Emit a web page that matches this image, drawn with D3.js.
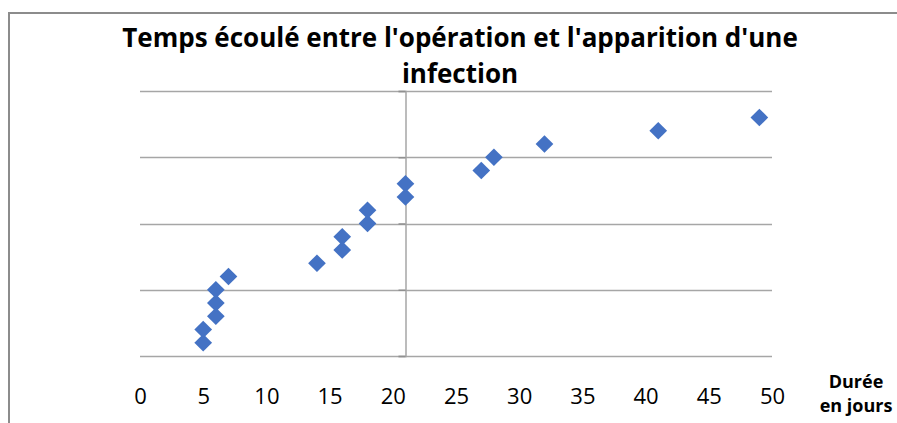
<!DOCTYPE html>
<html>
<head>
<meta charset="utf-8">
<script src="https://cdn.jsdelivr.net/npm/d3@7"></script>
<style>
  body { margin: 0; background: #fff; }
  svg { display: block; font-family: "Open Sans", Lato, sans-serif; }
</style>
</head>
<body>
<div id="chart"></div>
<script>
var width = 897;
var height = 423;

// durée en jours / rang du patient
var jours = [5, 5, 6, 6, 6, 7, 14, 16, 16, 18, 18, 21, 21, 27, 28, 32, 41, 49];
var rangs = [1, 2, 3, 4, 5, 6, 7, 8, 9, 10, 11, 12, 13, 14, 15, 16, 17, 18];
var xTicks = [0, 5, 10, 15, 20, 25, 30, 35, 40, 45, 50];
var yTicks = [0, 5, 10, 15, 20];
var titleLines = ["Temps écoulé entre l'opération et l'apparition d'une", "infection"];
var axisTitle = ["Durée", "en jours"];

var plot = {left: 140, right: 772, top: 91, bottom: 356};

var x = d3.scaleLinear()
          .domain([0, 50])
          .range([plot.left, plot.right]);

var y = d3.scaleLinear()
          .domain([0, 20])
          .range([plot.bottom, plot.top]);

var svg = d3.select("#chart")
            .append("svg")
            .attr("width", width)
            .attr("height", height);

// cadre du graphique
svg.append("rect")
   .attr("x", 9)
   .attr("y", 13)
   .attr("width", 1000)
   .attr("height", 1000)
   .style("fill", "none")
   .style("stroke", "#8c8c8c")
   .style("stroke-width", 2);

// quadrillage horizontal
svg.append("g")
   .selectAll("line")
   .data(yTicks)
   .enter()
   .append("line")
   .attr("x1", plot.left)
   .attr("x2", plot.right)
   .attr("y1", d => Math.round(y(d)) + 0.5)
   .attr("y2", d => Math.round(y(d)) + 0.5)
   .style("stroke", "#a6a6a6")
   .style("stroke-width", 1.5);

// axe vertical, coupe l'axe horizontal à 21
var yAxis = d3.axisLeft(y)
              .tickValues(yTicks)
              .tickSize(7)
              .tickFormat("");

svg.append("g")
   .attr("transform", "translate(" + (Math.round(x(21)) + 0.5) + ",0)")
   .call(yAxis)
   .call(g => g.select(".domain").style("stroke", "#a6a6a6").style("stroke-width", 1.5))
   .call(g => g.selectAll(".tick line").style("stroke", "#909090").style("stroke-width", 1.5));

// étiquettes de l'axe horizontal (sans trait)
var xAxis = d3.axisBottom(x)
              .tickValues(xTicks)
              .tickSize(0)
              .tickPadding(0);

svg.append("g")
   .attr("transform", "translate(0," + (plot.bottom + 32) + ")")
   .call(xAxis)
   .call(g => g.select(".domain").remove())
   .call(g => g.selectAll("text")
               .style("font-size", "22px")
               .style("fill", "#000")
               .style("font-family", "'Open Sans', Lato, sans-serif"));

// points en losange
var diamond = d3.symbol().type(d3.symbolDiamond2).size(200);

svg.append("g")
   .selectAll("path")
   .data(jours)
   .enter()
   .append("path")
   .attr("d", diamond)
   .attr("transform", (d, i) => "translate(" + x(d) + "," + y(rangs[i]) + ")")
   .style("fill", "#4472c4");

// titre
svg.append("text")
   .attr("text-anchor", "middle")
   .style("font-size", "26px")
   .style("font-weight", "bold")
   .selectAll("tspan")
   .data(titleLines)
   .enter()
   .append("tspan")
   .attr("x", 460)
   .attr("y", (d, i) => 47 + i * 36)
   .text(d => d);

// titre de l'axe
svg.append("text")
   .attr("text-anchor", "middle")
   .style("font-size", "18px")
   .style("font-weight", "bold")
   .selectAll("tspan")
   .data(axisTitle)
   .enter()
   .append("tspan")
   .attr("x", 856)
   .attr("y", (d, i) => 388 + i * 24)
   .text(d => d);
</script>
</body>
</html>
